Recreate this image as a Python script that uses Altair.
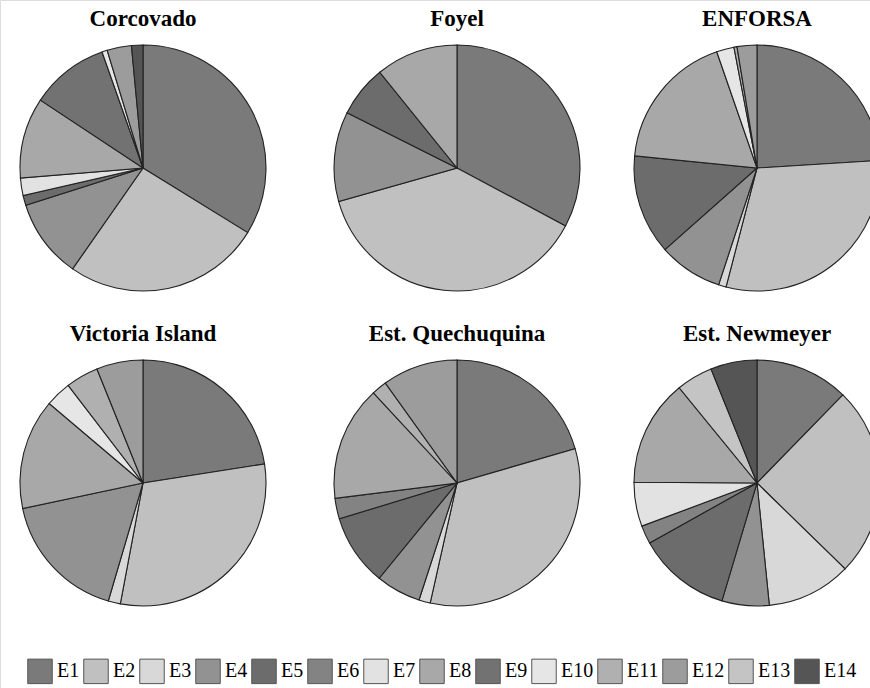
import altair as alt
import pandas as pd

# Sites shown as pies, laid out in two rows of three
sites = ["Corcovado", "Foyel", "ENFORSA",
         "Victoria Island", "Est. Quechuquina", "Est. Newmeyer"]
categories = ["E1", "E2", "E3", "E4", "E5", "E6", "E7",
              "E8", "E9", "E10", "E11", "E12", "E13", "E14"]

# Percentage share of each category per site (E1 ... E14)
corcovado = [33.8, 25.9, 0, 10.4, 1.3, 0, 2.3, 10.6, 10.3, 0.7, 0, 3.2, 0, 1.5]
foyel = [32.8, 37.8, 0, 11.8, 6.8, 0, 0, 10.8, 0, 0, 0, 0, 0, 0]
enforsa = [24.0, 30.0, 1.0, 8.4, 13.1, 0, 0, 18.1, 0, 2.3, 0.4, 2.6, 0, 0]
victoria = [22.5, 30.4, 1.6, 17.1, 0, 0, 0, 14.5, 0, 3.4, 4.3, 6.1, 0, 0]
quechuquina = [20.5, 33.0, 1.5, 5.9, 9.4, 2.7, 0, 15.1, 0, 0, 2.0, 9.9, 0, 0]
newmeyer = [12.3, 25.0, 11.1, 6.2, 12.3, 2.4, 5.8, 14.0, 0, 0, 0, 0, 4.8, 6.1]

site_values = [corcovado, foyel, enforsa, victoria, quechuquina, newmeyer]

# Grey tones standing in for the hatch patterns of each category
greys = ["#7a7a7a", "#c0c0c0", "#d8d8d8", "#929292", "#6c6c6c", "#838383",
         "#e2e2e2", "#a8a8a8", "#727272", "#e6e6e6", "#b0b0b0", "#9c9c9c",
         "#c4c4c4", "#555555"]

rows = []
for s, (site, vals) in enumerate(zip(sites, site_values)):
    for k, (cat, v) in enumerate(zip(categories, vals)):
        rows.append({"site": site, "col": s % 3, "row": s // 3,
                     "cat": cat, "idx": k, "value": v})
df = pd.DataFrame(rows)

titles = pd.DataFrame({"site": sites,
                       "col": [i % 3 for i in range(len(sites))],
                       "row": [i // 3 for i in range(len(sites))]})

x_scale = alt.Scale(domain=[0, 1, 2], range=[143, 457, 757])
y_scale = alt.Scale(domain=[0, 1], range=[168, 483])

pies = (
    alt.Chart(df)
    .transform_filter("datum.value > 0")
    .transform_stack(stack="value", groupby=["site"], as_=["v0", "v1"],
                     sort=[alt.SortField("idx", order="ascending")],
                     offset="normalize")
    .mark_arc(outerRadius=123, stroke="#222222", strokeWidth=1.1, clip=True)
    .encode(
        x=alt.X("col:Q", scale=x_scale, axis=None),
        y=alt.Y("row:Q", scale=y_scale, axis=None),
        theta=alt.Theta("v0:Q", scale=alt.Scale(domain=[0, 1]), stack=None),
        theta2="v1:Q",
        color=alt.Color(
            "cat:N",
            scale=alt.Scale(domain=categories, range=greys),
            legend=alt.Legend(
                title=None, orient="none", legendX=27, legendY=658,
                direction="horizontal", columns=14,
                symbolType="square", symbolSize=600,
                symbolStrokeColor="#555555", symbolStrokeWidth=1,
                symbolOpacity=1,
                labelFont="Liberation Serif", labelFontSize=20,
                labelColor="#000000", labelOffset=4,
                columnPadding=1, padding=0,
            ),
        ),
    )
)

labels = (
    alt.Chart(titles)
    .mark_text(font="Liberation Serif", fontSize=23, fontWeight="bold",
               color="#000000", baseline="alphabetic", dy=-142)
    .encode(
        x=alt.X("col:Q", scale=x_scale, axis=None),
        y=alt.Y("row:Q", scale=y_scale, axis=None),
        text="site:N",
    )
)

chart = (
    alt.layer(pies, labels)
    .properties(width=870, height=688, padding=0,
                autosize=alt.AutoSizeParams(type="none"))
    .configure_view(stroke=None)
    .configure(background="#ffffff")
)

chart.save("out.html", embed_options={"renderer": "svg", "actions": False})
